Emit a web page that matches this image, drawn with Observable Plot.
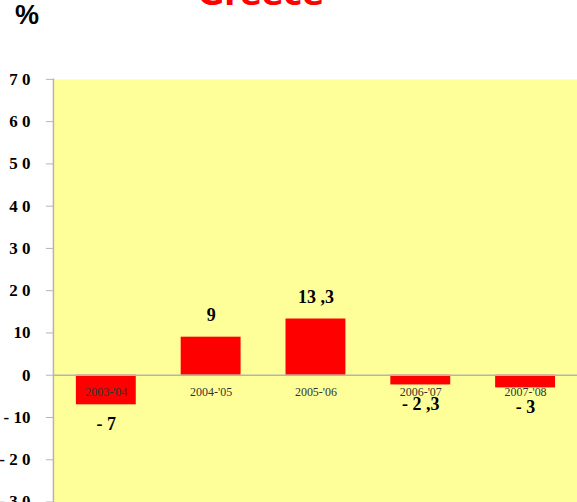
<!DOCTYPE html>
<html><head><meta charset="utf-8">
<script src="https://cdn.jsdelivr.net/npm/d3@7"></script>
<script src="https://cdn.jsdelivr.net/npm/@observablehq/plot@0.6"></script>
<style>
html,body{margin:0;padding:0;background:#fff;}
#wrap{position:relative;width:577px;height:502px;overflow:hidden;}
#chart{position:absolute;left:0;top:0;}
#title{position:absolute;left:0;width:522px;text-align:center;top:-22px;font-family:"DejaVu Sans",sans-serif;font-weight:bold;font-size:32px;color:#ff0000;line-height:32px;white-space:nowrap;}
#unit{position:absolute;left:15px;top:0px;font-family:"Liberation Sans",Arial,sans-serif;font-weight:bold;font-size:27px;line-height:30px;color:#000;}
</style></head>
<body>
<div id="wrap">
<div id="chart"></div>
<div id="title">Greece</div>
<div id="unit">%</div>
</div>
<script>
const categories = ["2003-'04","2004-'05","2005-'06","2006-'07","2007-'08"];
const values = [-7, 9, 13.3, -2.3, -3];
const valueLabels = ["- 7","9","13 ,3","- 2 ,3","- 3"];
const yTicks = [-30,-20,-10,0,10,20,30,40,50,60,70];
const yTickLabels = ["- 3 0","- 2 0","- 10","0","10","2 0","3 0","4 0","5 0","6 0","7 0"];

const data = categories.map((c,i)=>({cat:c, value:values[i], label:valueLabels[i]}));
const tickMap = new Map(yTicks.map((t,i)=>[t,yTickLabels[i]]));
const serif = "Liberation Serif, Times New Roman, serif";

const chart = Plot.plot({
  width: 578, height: 504,
  marginTop: 79, marginBottom: 1.6, marginLeft: 53, marginRight: 0,
  style: {background: "transparent", overflow: "visible"},
  x: {domain: categories, paddingInner: 0.43, paddingOuter: 0.2, axis: null},
  y: {domain: [-30, 70], axis: null},
  marks: [
    Plot.frame({fill: "#ffff99", stroke: "none"}),
    Plot.frame({anchor: "left", stroke: "#b4b4b4", strokeWidth: 1.5}),
    Plot.barY(data, {x: "cat", y: "value", fill: "#ff0000"}),
    Plot.ruleY([0], {stroke: "#b4b4b4", strokeWidth: 1.5}),
    Plot.axisY({ticks: yTicks, tickFormat: d => tickMap.get(d), tickSize: 7, tickPadding: 16,
      stroke: "#b4b4b4", fill: "#000", fontSize: 17, fontWeight: "bold",
      fontFamily: serif, label: null}),
    Plot.text(data, {x: "cat", y: 0, text: "cat", dy: 17, fontSize: 12,
      fontFamily: serif, fill: "#333", letterSpacing: 1.4}),
    Plot.text(data.filter(d => d.value >= 0), {x: "cat", y: "value", text: "label", dy: -22,
      fontSize: 18, fontWeight: "bold", fontFamily: serif, fill: "#000"}),
    Plot.text(data.filter(d => d.value < 0), {x: "cat", y: "value", text: "label", dy: 19,
      fontSize: 18, fontWeight: "bold", fontFamily: serif, fill: "#000"})
  ]
});
document.getElementById("chart").appendChild(chart);
</script>
</body></html>
